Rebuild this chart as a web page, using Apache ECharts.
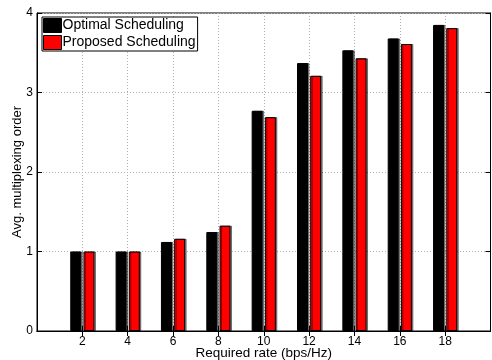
<!DOCTYPE html>
<html>
<head>
<meta charset="utf-8">
<script src="https://cdn.jsdelivr.net/npm/echarts@6/dist/echarts.min.js"></script>
<style>html,body{margin:0;padding:0;background:#fff}#c{width:492px;height:360px}</style>
</head>
<body>
<div id="c"></div>
<script>
const categories = ['0', '2', '4', '6', '8', '10', '12', '14', '16', '18', '20'];
const optimal = [null, 1.0, 1.0, 1.12, 1.245, 2.77, 3.37, 3.53, 3.68, 3.85, null];
const proposed = [null, 1.0, 1.0, 1.16, 1.325, 2.69, 3.21, 3.43, 3.61, 3.81, null];
const seriesNames = ['Optimal Scheduling', 'Proposed Scheduling'];
const yTicks = [0, 1, 2, 3, 4];
const xTitle = 'Required rate (bps/Hz)';
const yTitle = 'Avg. multiplexing order';

const FONT = 'Liberation Sans, Arial, Helvetica, sans-serif';
const chart = echarts.init(document.getElementById('c'), null, {renderer: 'canvas'});
const hideEnds = (v, i) => (i === 0 || i === categories.length - 1) ? '' : v;
const barStyle = (color) => ({
  color: color, borderColor: '#000', borderWidth: 1,
  shadowColor: 'rgba(0,0,0,0.45)', shadowOffsetX: 1.5, shadowOffsetY: 0, shadowBlur: 0
});
chart.setOption({
  animation: false,
  backgroundColor: '#fff',
  textStyle: {fontFamily: FONT},
  grid: {left: 37, right: 1.5, top: 13, bottom: 29, show: true, borderColor: '#000', borderWidth: 1, containLabel: false, outerBoundsMode: 'none'},
  legend: {
    orient: 'vertical', left: 42, top: 17,
    data: seriesNames,
    itemWidth: 18, itemHeight: 14, itemGap: 2,
    padding: [1, 2, 1, 1],
    borderColor: '#000', borderWidth: 1, backgroundColor: '#fff',
    icon: 'rect',
    itemStyle: {borderColor: '#000', borderWidth: 1},
    textStyle: {fontSize: 14, color: '#000', fontFamily: FONT, padding: [0, 0, 0, -4]}
  },
  xAxis: [{
    type: 'category', data: categories, boundaryGap: false, position: 'bottom',
    name: xTitle, nameLocation: 'middle', nameGap: 15, nameMoveOverlap: false,
    nameTextStyle: {fontSize: 13.5, color: '#000', fontFamily: FONT},
    axisLine: {show: true, lineStyle: {color: '#000', width: 1}},
    axisTick: {show: true, inside: true, length: 5, lineStyle: {color: '#000'}, interval: 0},
    axisLabel: {fontSize: 12, color: '#000', margin: 5, formatter: hideEnds, interval: 0, fontFamily: FONT},
    splitLine: {show: true, interval: (i) => i > 0 && i < categories.length - 1, lineStyle: {color: '#b0b0b0', type: [1, 2], width: 1}}
  }, {
    type: 'category', data: categories, boundaryGap: false, position: 'top',
    axisLine: {show: true, lineStyle: {color: '#000'}},
    axisTick: {show: true, inside: true, length: 5, lineStyle: {color: '#000'}, interval: (i) => i > 0 && i < categories.length - 1},
    axisLabel: {show: false}, splitLine: {show: false}
  }],
  yAxis: [{
    type: 'value', min: yTicks[0], max: yTicks[yTicks.length - 1], interval: 1, position: 'left',
    name: yTitle, nameLocation: 'middle', nameGap: 13, nameMoveOverlap: false,
    nameTextStyle: {fontSize: 13, color: '#000', fontFamily: FONT},
    axisLine: {show: true, lineStyle: {color: '#000'}},
    axisTick: {show: true, inside: true, length: 5, lineStyle: {color: '#000'}},
    axisLabel: {fontSize: 12, color: '#000', margin: 4, fontFamily: FONT},
    splitLine: {show: true, lineStyle: {color: '#b0b0b0', type: [1, 2], width: 1}}
  }, {
    type: 'value', min: yTicks[0], max: yTicks[yTicks.length - 1], interval: 1, position: 'right',
    axisLine: {show: true, lineStyle: {color: '#000'}},
    axisTick: {show: true, inside: true, length: 5, lineStyle: {color: '#000'}},
    axisLabel: {show: false}, splitLine: {show: false}
  }],
  series: [{
    name: seriesNames[0], type: 'bar', xAxisIndex: 0, yAxisIndex: 0,
    data: optimal, barWidth: 11, barGap: '20%', itemStyle: barStyle('#000')
  }, {
    name: seriesNames[1], type: 'bar', xAxisIndex: 0, yAxisIndex: 0,
    data: proposed, barWidth: 11, barGap: '20%', itemStyle: barStyle('#ff0000')
  }]
});
</script>
</body>
</html>
